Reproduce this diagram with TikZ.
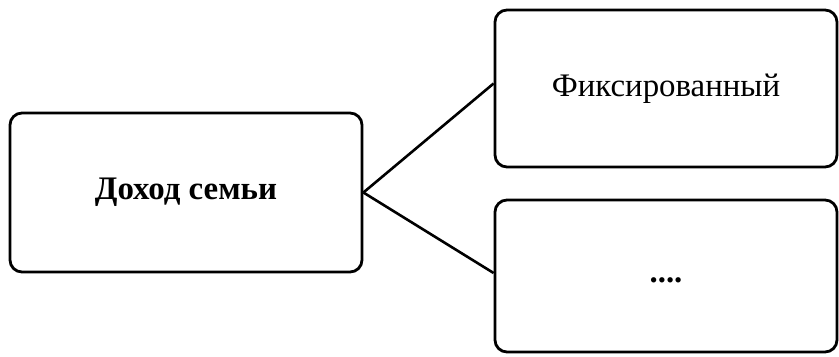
\documentclass[tikz,border=0pt]{standalone}
\usepackage{fontspec}
\setmainfont{Liberation Serif}
\usepackage{xcolor}
\usepackage{tikz}
\usetikzlibrary{positioning}

\tikzset{
    incbox/.style={draw=black, line width=2.8bp, rounded corners=12bp, rectangle,
        fill=white, inner sep=0pt, font=\fontsize{33}{38}\selectfont}
}

\begin{document}
\begin{tikzpicture}[x=1bp, y=-1bp]
        \useasboundingbox[fill=white] (0,0) rectangle (839,356);
        \node[incbox, minimum width=352bp, minimum height=159bp] (income) at (186,192.5) {\textbf{Доход семьи}};
        \node[incbox, minimum width=342bp, minimum height=157bp] (fixed) at (666,88.5) {Фиксированный};
        \node[incbox, minimum width=342bp, minimum height=152bp] (other) at (666,276) {\raisebox{-13bp}{\textbf{....}}};
        \draw[line width=2.6bp] (income.east) -- ([yshift=5bp]fixed.west);
        \draw[line width=2.6bp] (income.east) -- ([yshift=3bp]other.west);
        \end{tikzpicture}
\end{document}
